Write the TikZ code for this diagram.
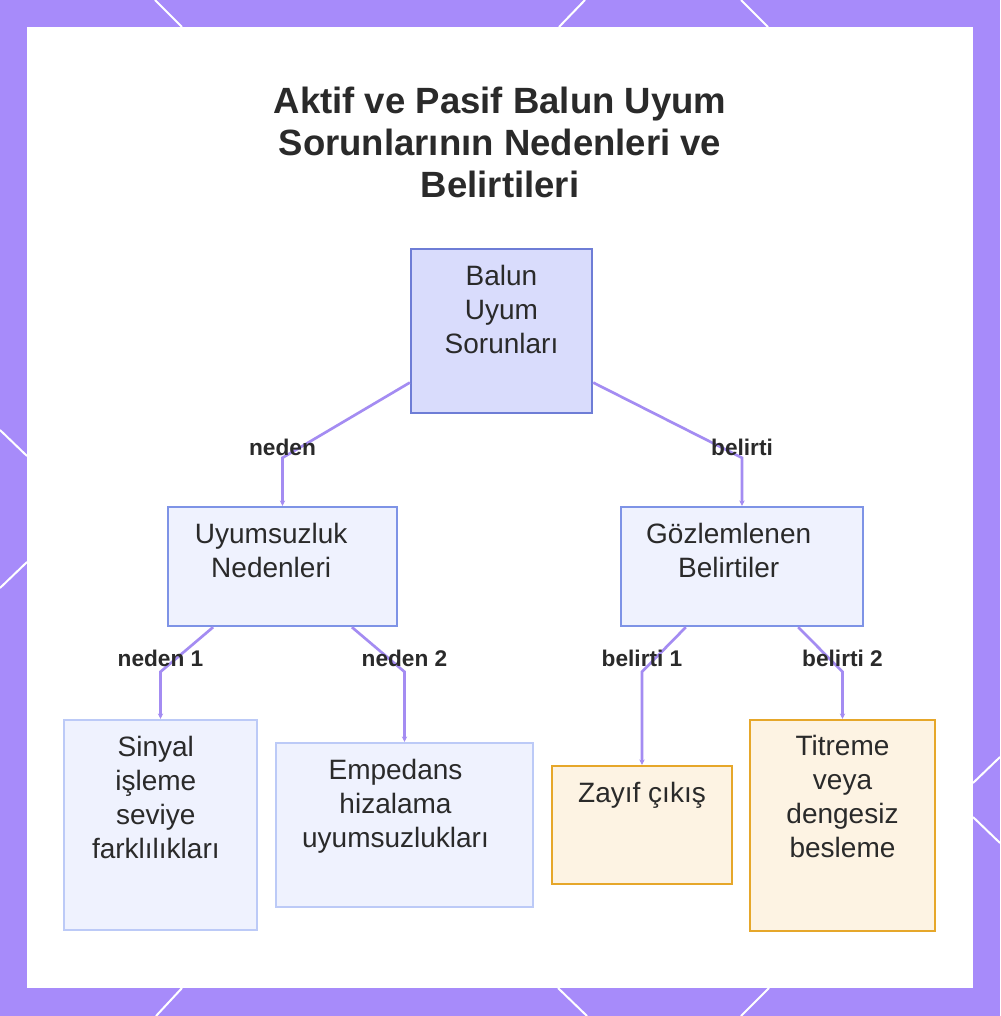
\documentclass[tikz,border=0pt]{standalone}
\usepackage{fontspec}
\setmainfont{Liberation Sans}
\usetikzlibrary{calc,arrows.meta}

\definecolor{framepurple}{HTML}{A78BFA}
\definecolor{linkpurple}{HTML}{A48CF2}
\definecolor{inktext}{HTML}{2A2A2A}
\definecolor{rootfill}{HTML}{D9DCFC}
\definecolor{rootline}{HTML}{6E7DD6}
\definecolor{hubfill}{HTML}{EFF2FE}
\definecolor{hubline}{HTML}{7E93E6}
\definecolor{leafline}{HTML}{BCCAF7}
\definecolor{warnfill}{HTML}{FDF3E3}
\definecolor{warnline}{HTML}{E6A72A}

\tikzset{
  box/.style={draw, rectangle, line width=1.8pt, inner sep=0pt},
  rootbox/.style={box, fill=rootfill, draw=rootline},
  hubbox/.style={box, fill=hubfill, draw=hubline},
  leafbox/.style={box, fill=hubfill, draw=leafline},
  warnbox/.style={box, fill=warnfill, draw=warnline},
  boxtext/.style={anchor=north, align=center, inner sep=0pt, text=inktext,
    font=\fontsize{21}{25.5}\selectfont},
  link/.style={draw=linkpurple, line width=2pt, -{Stealth[length=4pt,width=4pt]}},
  lbl/.style={font=\bfseries\fontsize{17}{20}\selectfont, text=inktext, inner sep=1pt},
  edgeline/.style={draw=white, line width=1.5pt}
}

\begin{document}
\begin{tikzpicture}[x=0.75pt, y=-0.75pt]
  % frame and panel
  \fill[framepurple] (0,0) rectangle (1000,1016);
  \useasboundingbox (0,0) rectangle (1000,1016);
  \draw[edgeline] (155,0) -- (182,27);
  \draw[edgeline] (585,0) -- (559,27);
  \draw[edgeline] (741,0) -- (768,27);
  \draw[edgeline] (182,988) -- (156,1016);
  \draw[edgeline] (558,988) -- (587,1016);
  \draw[edgeline] (769,988) -- (741,1016);
  \draw[edgeline] (0,430) -- (27,456);
  \draw[edgeline] (27,562) -- (0,588);
  \draw[edgeline] (1000,757) -- (973,783);
  \draw[edgeline] (973,817) -- (1000,843);
  \fill[white] (27,27) rectangle (973,988);

  % title
  \node[anchor=north, align=center, text=inktext, inner sep=0pt,
    font=\bfseries\fontsize{27.4}{31.5}\selectfont] (title) at (500,87)
    {Aktif ve Pasif Balun Uyum\\Sorunlarının Nedenleri ve\\Belirtileri};

  % boxes
  \node[rootbox, minimum width=135.75pt, minimum height=123pt] (root) at (501.5,331) {};
  \node[hubbox, minimum width=171.75pt, minimum height=89.25pt] (cause) at (282.5,566.5) {};
  \node[hubbox, minimum width=181.5pt, minimum height=89.25pt] (symp) at (742,566.5) {};
  \node[leafbox, minimum width=144.75pt, minimum height=157.5pt] (sig) at (160.5,825) {};
  \node[leafbox, minimum width=192.75pt, minimum height=123pt] (imp) at (404.5,825) {};
  \node[warnbox, minimum width=135pt, minimum height=88.5pt] (weak) at (642,825) {};
  \node[warnbox, minimum width=138.75pt, minimum height=158.25pt] (flick) at (842.5,825.5) {};

  % box texts
  \node[boxtext] (roottxt) at ([yshift=-12.5pt]root.north) {Balun\\Uyum\\Sorunları};
  \node[boxtext] (causetxt) at ([xshift=-8.5pt, yshift=-12.5pt]cause.north) {Uyumsuzluk\\Nedenleri};
  \node[boxtext] (symptxt) at ([xshift=-10pt, yshift=-12.5pt]symp.north) {Gözlemlenen\\Belirtiler};
  \node[boxtext] (sigtxt) at ([xshift=-3.5pt, yshift=-12.5pt]sig.north) {Sinyal\\işleme\\seviye\\farklılıkları};
  \node[boxtext] (imptxt) at ([xshift=-6.75pt, yshift=-12.5pt]imp.north) {Empedans\\hizalama\\uyumsuzlukları};
  \node[boxtext] (weaktxt) at ([yshift=-12.5pt]weak.north) {Zayıf çıkış};
  \node[boxtext] (flicktxt) at ([yshift=-12pt]flick.north) {Titreme\\veya\\dengesiz\\besleme};

  % connectors
  \draw[link] ($(root.south west)!0.19!(root.north west)$) -- ([yshift=36pt]cause.north)
    node[lbl, yshift=8pt] {neden} -- (cause.north);
  \draw[link] ($(root.south east)!0.19!(root.north east)$) -- ([yshift=36pt]symp.north)
    node[lbl, yshift=8pt] {belirti} -- (symp.north);
  \draw[link] ($(cause.south west)!0.2!(cause.south east)$) -- ([yshift=35.25pt]sig.north)
    node[lbl, yshift=9.75pt] {neden 1} -- (sig.north);
  \draw[link] ($(cause.south west)!0.8!(cause.south east)$) -- ([yshift=52.5pt]imp.north)
    node[lbl, yshift=9.75pt] {neden 2} -- (imp.north);
  \draw[link] ($(symp.south west)!0.27!(symp.south east)$) -- ([yshift=69.75pt]weak.north)
    node[lbl, yshift=9.75pt] {belirti 1} -- (weak.north);
  \draw[link] ($(symp.south west)!0.73!(symp.south east)$) -- ([yshift=35.25pt]flick.north)
    node[lbl, yshift=9.75pt] {belirti 2} -- (flick.north);
\end{tikzpicture}
\end{document}
